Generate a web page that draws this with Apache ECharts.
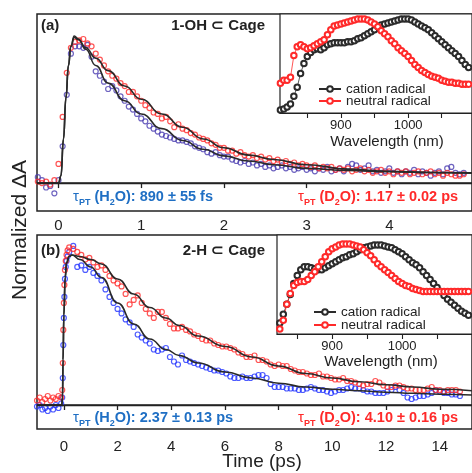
<!DOCTYPE html>
<html><head><meta charset="utf-8">
<script src="https://cdn.jsdelivr.net/npm/echarts@6/dist/echarts.min.js"></script>
<style>html,body{margin:0;padding:0;background:#fff}#c{width:472px;height:473px}</style>
</head><body><div id="c"></div>
<script>
// ---------- Panel (a): 1-OH ⊂ Cage ----------
const timeA = [-0.25,-0.20,-0.15,-0.10,-0.05,0.00,0.05,0.10,0.15,0.20,0.25,0.30,0.35,0.40,0.45,0.50,0.55,0.60,0.65,0.70,0.75,0.80,0.85,0.90,0.95,1.00,1.05,1.10,1.15,1.20,1.25,1.30,1.35,1.40,1.45,1.50,
1.55,1.60,1.65,1.70,1.75,1.80,1.85,1.90,1.95,2.00,2.05,2.10,2.15,2.20,2.25,2.30,2.35,2.40,2.45,2.50,2.55,2.60,2.65,2.70,2.75,2.80,2.85,2.90,2.95,3.00,
3.05,3.10,3.15,3.20,3.25,3.30,3.35,3.40,3.45,3.50,3.55,3.60,3.65,3.70,3.75,3.80,3.85,3.90,3.95,4.00,4.05,4.10,4.15,4.20,4.25,4.30,4.35,4.40,4.45,4.50,
4.55,4.60,4.65,4.70,4.75,4.80,4.85,4.90];
const h2oA = [0.04,0.02,-0.03,-0.02,-0.07,0.02,0.25,0.60,0.88,0.93,
0.93,0.92,0.94,0.86,0.76,0.73,0.69,0.64,0.66,0.63,
0.59,0.56,0.52,0.50,0.47,0.44,0.42,0.39,0.37,0.35,
0.33,0.32,0.31,0.30,0.29,0.29,
0.28,0.27,0.25,0.24,0.23,0.21,0.20,0.21,0.19,0.18,
0.18,0.16,0.15,0.14,0.15,0.13,0.14,0.12,0.13,0.11,
0.12,0.10,0.11,0.12,0.10,0.11,0.09,0.10,0.11,0.09,
0.10,0.08,0.10,0.09,0.11,0.08,0.09,0.10,0.08,0.11,
0.13,0.12,0.09,0.10,0.12,0.08,0.09,0.07,0.08,0.10,
0.07,0.08,0.06,0.08,0.07,0.09,0.06,0.08,0.07,0.05,
0.07,0.08,0.06,0.10,0.11,0.07,0.06,0.07];
const d2oA = [0.01,0.00,0.01,-0.01,0.02,0.13,0.45,0.75,0.92,0.96,
0.97,0.98,0.95,0.93,0.88,0.84,0.80,0.76,0.73,0.71,
0.68,0.66,0.62,0.62,0.59,0.56,0.53,0.51,0.48,0.47,
0.44,0.45,0.42,0.38,0.40,0.37,
0.36,0.34,0.33,0.31,0.30,0.29,0.27,0.26,0.24,0.24,
0.22,0.22,0.20,0.21,0.19,0.18,0.19,0.17,0.18,0.16,
0.17,0.15,0.16,0.14,0.15,0.13,0.14,0.12,0.13,0.12,
0.11,0.12,0.10,0.11,0.10,0.11,0.09,0.10,0.09,0.10,
0.08,0.09,0.10,0.08,0.09,0.07,0.08,0.09,0.07,0.08,
0.06,0.08,0.07,0.08,0.06,0.07,0.08,0.06,0.07,0.08,
0.06,0.07,0.05,0.07,0.06,0.05,0.05,0.06];
const fitTimeA = [-0.26,0,0.03,0.06,0.09,0.12,0.15,0.19,0.24,0.33,0.45,0.6,0.8,1.0,1.25,1.5,1.75,2.0,2.3,2.6,3.0,3.5,4.0,4.5,5.0];
const fitH2oA = [0,0,0.05,0.30,0.58,0.80,0.93,1.0,0.98,0.91,0.80,0.68,0.56,0.47,0.37,0.29,0.23,0.185,0.15,0.125,0.10,0.085,0.077,0.072,0.069];
const fitD2oA = [0,0,0.05,0.30,0.58,0.80,0.93,0.99,0.975,0.92,0.85,0.765,0.66,0.57,0.47,0.38,0.30,0.24,0.19,0.16,0.125,0.095,0.08,0.072,0.067];

// ---------- Panel (b): 2-H ⊂ Cage ----------
const timeB = [-1.0,-0.9,-0.8,-0.7,-0.6,-0.5,-0.4,-0.3,-0.2,-0.1,-0.06,-0.04,-0.02,0,0.02,0.04,0.07,0.1,0.14,
0.20,0.35,0.50,0.65,0.80,0.95,1.10,1.25,1.40,1.55,
1.70,1.85,2.00,2.15,2.30,2.45,2.60,2.75,2.90,3.05,
3.20,3.35,3.50,3.65,3.80,3.95,4.10,4.25,4.40,4.55,
4.70,4.85,5.00,5.15,5.30,5.45,5.60,5.75,5.90,6.05,
6.20,6.35,6.50,6.65,6.80,6.95,7.10,7.25,7.40,7.55,
7.70,7.85,8.00,8.15,8.30,8.45,8.60,8.75,8.90,9.05,
9.20,9.35,9.50,9.65,9.80,9.95,10.10,10.25,10.40,10.55,
10.70,10.85,11.00,11.15,11.30,11.45,11.60,11.75,11.90,12.05,
12.20,12.35,12.50,12.65,12.80,12.95,13.10,13.25,13.40,13.55,
13.70,13.85,14.00,14.15,14.30,14.45,14.60,14.75];
const h2oB = [-0.01,0.00,-0.03,-0.02,-0.04,-0.01,-0.03,0.00,-0.02,0.01,0.05,0.18,0.40,0.58,0.72,0.84,0.92,0.96,0.99,
1.02,1.06,0.92,0.93,0.90,0.92,0.88,0.86,0.83,0.77,
0.72,0.68,0.64,0.61,0.57,0.55,0.52,0.47,0.45,0.43,
0.41,0.37,0.36,0.37,0.38,0.32,0.29,0.27,0.33,0.30,
0.29,0.28,0.27,0.26,0.25,0.24,0.23,0.23,0.22,0.21,
0.19,0.18,0.18,0.19,0.18,0.18,0.19,0.20,0.20,0.18,
0.14,0.12,0.12,0.12,0.11,0.11,0.11,0.10,0.10,0.11,
0.12,0.11,0.10,0.10,0.09,0.08,0.09,0.10,0.10,0.11,
0.12,0.11,0.11,0.10,0.09,0.09,0.08,0.08,0.08,0.09,
0.10,0.12,0.10,0.08,0.05,0.04,0.05,0.06,0.06,0.07,
0.08,0.10,0.09,0.08,0.08,0.07,0.07,0.06];
const d2oB = [0.03,0.05,0.02,0.04,0.06,0.03,0.05,0.04,0.06,0.05,0.10,0.28,0.50,0.68,0.80,0.90,0.96,1.00,1.03,
1.05,1.04,1.02,1.00,0.97,0.98,0.95,0.92,0.93,0.90,
0.86,0.83,0.81,0.79,0.74,0.67,0.70,0.73,0.68,0.64,
0.61,0.58,0.62,0.62,0.58,0.54,0.51,0.51,0.52,0.50,
0.49,0.47,0.46,0.44,0.43,0.43,0.41,0.40,0.39,0.39,
0.38,0.37,0.35,0.34,0.32,0.32,0.33,0.30,0.30,0.29,
0.27,0.26,0.27,0.26,0.26,0.24,0.23,0.22,0.22,0.21,
0.20,0.20,0.21,0.19,0.19,0.18,0.17,0.17,0.18,0.16,
0.16,0.15,0.14,0.13,0.14,0.14,0.16,0.15,0.13,0.12,
0.12,0.13,0.13,0.12,0.11,0.11,0.10,0.10,0.10,0.11,
0.12,0.10,0.10,0.09,0.10,0.10,0.10,0.09];
const fitTimeB = [-1.0,-0.08,-0.05,-0.03,0,0.05,0.1,0.2,0.3,0.6,1.0,1.4,2.0,2.6,3.2,3.8,4.3,5,6,7,8,9,10,11,12,13,14,15.2];
const fitH2oB = [0,0,0.05,0.3,0.6,0.85,0.95,0.99,1.0,0.97,0.92,0.85,0.68,0.54,0.44,0.37,0.33,0.28,0.22,0.18,0.145,0.12,0.105,0.095,0.085,0.078,0.072,0.067];
const fitD2oB = [0,0,0.05,0.3,0.6,0.85,0.95,0.99,1.0,0.99,0.97,0.94,0.84,0.74,0.65,0.58,0.53,0.46,0.39,0.32,0.26,0.21,0.18,0.155,0.135,0.12,0.105,0.095];

// ---------- Insets: normalized spectra ----------
const waveA = [810,815,820,825,830,835,840,845,850,855,860,865,870,875,880,885,890,895,900,905,910,915,920,925,930,935,940,945,950,955,
960,965,970,975,980,985,990,995,1000,1005,1010,1015,1020,1025,1030,1035,1040,1045,1050,1055,1060,1065,1070,1075,1080,1085,1090];
const cationA = [0.03,0.04,0.06,0.09,0.17,0.26,0.40,0.50,0.57,0.61,
0.64,0.65,0.64,0.66,0.69,0.70,0.71,0.71,0.71,0.71,
0.72,0.72,0.73,0.75,0.76,0.78,0.80,0.82,0.84,0.87,
0.89,0.90,0.91,0.92,0.93,0.94,0.95,0.95,0.95,0.94,
0.92,0.90,0.88,0.86,0.84,0.81,0.78,0.75,0.72,0.69,
0.66,0.63,0.60,0.57,0.53,0.49,0.46];
const neutralA = [0.30,0.33,0.33,0.36,0.58,0.67,0.69,0.67,0.65,0.66,
0.68,0.70,0.72,0.74,0.79,0.84,0.88,0.89,0.90,0.91,
0.92,0.93,0.94,0.95,0.95,0.95,0.94,0.92,0.90,0.87,
0.83,0.80,0.77,0.73,0.70,0.66,0.63,0.60,0.57,0.53,
0.49,0.46,0.43,0.41,0.39,0.37,0.36,0.35,0.33,0.32,
0.31,0.31,0.30,0.30,0.29,0.29,0.29];
const waveB = [825,830,835,840,845,850,855,860,865,870,875,880,885,890,895,900,905,910,915,920,925,930,935,940,945,950,955,960,965,970,
975,980,985,990,995,1000,1005,1010,1015,1020,1025,1030,1035,1040,1045,1050,1055,1060,1065,1070,1075,1080,1085,1090,1095];
const cationB = [0.11,0.20,0.30,0.40,0.51,0.59,0.65,0.68,0.68,0.67,
0.66,0.65,0.65,0.67,0.69,0.71,0.73,0.75,0.77,0.78,
0.80,0.81,0.83,0.85,0.87,0.88,0.89,0.90,0.90,0.90,
0.89,0.88,0.87,0.85,0.83,0.81,0.78,0.75,0.72,0.70,
0.67,0.63,0.59,0.55,0.51,0.47,0.43,0.39,0.35,0.32,
0.29,0.26,0.23,0.21,0.19];
const neutralB = [0.05,0.14,0.30,0.41,0.49,0.52,0.53,0.53,0.55,0.59,
0.63,0.68,0.73,0.78,0.83,0.86,0.88,0.90,0.91,0.91,
0.91,0.90,0.89,0.88,0.85,0.82,0.79,0.75,0.71,0.68,
0.65,0.62,0.59,0.56,0.53,0.51,0.49,0.48,0.46,0.45,
0.44,0.43,0.43,0.43,0.43,0.43,0.43,0.43,0.43,0.43,
0.43,0.43,0.43,0.43,0.43];

// ---------- Ticks ----------
const ticksA = [0,1,2,3,4];
const ticksB = [0,2,4,6,8,10,12,14];
const waveTicks = [850,900,950,1000,1050];
const waveLabels = [900,1000];
const legendNames = ['cation radical','neutral radical'];

const zip = (xs, ys) => xs.map((x, i) => [x, ys[i]]);
const FONT = '"Liberation Sans", Arial, sans-serif';
const INK = '#222';
const BLUE_A = '#4a3cb0', BLUE_B = '#2233ff', RED = '#ff2a2a';
const TXT_BLUE = '#1f6fc4', TXT_RED = '#ff2a2a';

function mainX(grid, min, max, ticks, margin) {
  return { type:'value', gridIndex:grid, min:min, max:max,
    axisLine:{show:true, lineStyle:{color:INK, width:1.5}},
    axisTick:{show:true, length:5, customValues:ticks, lineStyle:{color:INK, width:1.3}},
    axisLabel:{customValues:ticks, fontSize:15, color:INK, margin:margin, fontFamily:FONT},
    splitLine:{show:false} };
}
function insetX(grid, min, max) {
  return { type:'value', gridIndex:grid, min:min, max:max,
    axisLine:{show:true, lineStyle:{color:INK, width:1.2}},
    axisTick:{show:true, length:5, customValues:waveTicks, lineStyle:{color:INK, width:1.1}},
    axisLabel:{customValues:waveLabels, formatter:(v) => String(v), fontSize:13, color:INK, margin:6, fontFamily:FONT},
    splitLine:{show:false} };
}
function hiddenY(grid, min, max) {
  return { type:'value', gridIndex:grid, min:min, max:max, show:false, splitLine:{show:false} };
}
function dots(ax, data, color) {
  return { type:'scatter', xAxisIndex:ax, yAxisIndex:ax, data:data, symbol:'circle', symbolSize:5,
    itemStyle:{color:'rgba(0,0,0,0)', borderColor:color, borderWidth:1.2}, silent:true, z:2 };
}
function fit(ax, data) {
  return { type:'line', xAxisIndex:ax, yAxisIndex:ax, data:data, showSymbol:false, smooth:0.5, smoothMonotone:'x',
    lineStyle:{color:'#2a2a2a', width:1.6}, silent:true, z:4 };
}
function spec(ax, name, data, color) {
  return { type:'line', name:name, xAxisIndex:ax, yAxisIndex:ax, data:data, symbol:'emptyCircle', symbolSize:5.5, showAllSymbol:true,
    itemStyle:{color:color, borderWidth:0.9}, lineStyle:{color:color, width:0.8}, silent:true, z:5 };
}
function baseline(ax) {
  return { type:'line', xAxisIndex:ax, yAxisIndex:ax, data:[], silent:true,
    markLine:{silent:true, symbol:['none','none'], label:{show:false}, animation:false,
      lineStyle:{color:INK, width:1.3, type:'solid'}, data:[{yAxis:0}]} };
}
function tauText(x, y, solvent, value, color) {
  const txt = '{g|τ}{s|PT}{b| (' + solvent + '}{s|2}{b|O): ' + value + '}';
  return { type:'text', x:x, y:y, z:10,
    style:{ text:txt, verticalAlign:'middle', align:'left',
      rich:{ g:{fontSize:15, fontFamily:FONT, fill:color, lineHeight:20},
             s:{fontSize:9, fontFamily:FONT, fontWeight:'bold', fill:color, lineHeight:9, verticalAlign:'bottom'},
             b:{fontSize:14.5, fontFamily:FONT, fontWeight:'bold', fill:color, lineHeight:20} } } };
}

const chart = echarts.init(document.getElementById('c'), null, {renderer:'canvas'});
chart.setOption({
  animation:false,
  backgroundColor:'#fff',
  textStyle:{fontFamily:FONT},
  grid:[
    {left:37, top:14, width:443.5, height:197, show:true, borderColor:INK, borderWidth:1.5, backgroundColor:'transparent'},
    {left:37, top:235, width:447, height:194, show:true, borderColor:INK, borderWidth:1.5, backgroundColor:'transparent'},
    {left:280, top:14, width:197, height:99, show:true, borderColor:INK, borderWidth:1.2, backgroundColor:'#fff'},
    {left:277, top:235, width:201, height:99, show:true, borderColor:INK, borderWidth:1.2, backgroundColor:'#fff'}
  ],
  xAxis:[ mainX(0,-0.26,5.0,ticksA,7), mainX(1,-1.0,15.2,ticksB,10), insetX(2,809.4,1095), insetX(3,821,1100) ],
  yAxis:[ hiddenY(0,-0.19,1.15), hiddenY(1,-0.16,1.133), hiddenY(2,0,1), hiddenY(3,0,1) ],
  legend:[
    {data:legendNames, orient:'vertical', left:318, top:82, itemGap:-2, itemWidth:22, itemHeight:7, padding:0,
     textStyle:{fontSize:13.5, color:INK, fontFamily:FONT}, selectedMode:false},
    {data:legendNames, orient:'vertical', left:313, top:305, itemGap:-1, itemWidth:22, itemHeight:7, padding:0,
     textStyle:{fontSize:13.5, color:INK, fontFamily:FONT}, selectedMode:false}
  ],
  series:[
    baseline(0), baseline(1),
    dots(0, zip(timeA, h2oA), BLUE_A), dots(0, zip(timeA, d2oA), RED),
    fit(0, zip(fitTimeA, fitH2oA)), fit(0, zip(fitTimeA, fitD2oA)),
    dots(1, zip(timeB, h2oB), BLUE_B), dots(1, zip(timeB, d2oB), RED),
    fit(1, zip(fitTimeB, fitH2oB)), fit(1, zip(fitTimeB, fitD2oB)),
    spec(2, 'cation radical', zip(waveA, cationA), '#2b2b2b'), spec(2, 'neutral radical', zip(waveA, neutralA), RED),
    spec(3, 'cation radical', zip(waveB, cationB), '#2b2b2b'), spec(3, 'neutral radical', zip(waveB, neutralB), RED)
  ],
  graphic:[
    {type:'text', x:41, y:26, z:10, style:{text:'(a)', fontSize:15, fontWeight:'bold', fontFamily:FONT, fill:INK, verticalAlign:'middle'}},
    {type:'text', x:265, y:26, z:10, style:{text:'1-OH ⊂ Cage', fontSize:15, fontWeight:'bold', fontFamily:FONT, fill:INK, align:'right', verticalAlign:'middle'}},
    {type:'text', x:41, y:251, z:10, style:{text:'(b)', fontSize:15, fontWeight:'bold', fontFamily:FONT, fill:INK, verticalAlign:'middle'}},
    {type:'text', x:265, y:251, z:10, style:{text:'2-H ⊂ Cage', fontSize:15, fontWeight:'bold', fontFamily:FONT, fill:INK, align:'right', verticalAlign:'middle'}},
    tauText(73, 197, 'H', '890 ± 55 fs', TXT_BLUE),
    tauText(298, 197, 'D', '1.17 ± 0.02 ps', TXT_RED),
    tauText(73, 418, 'H', '2.37 ± 0.13 ps', TXT_BLUE),
    tauText(298, 418, 'D', '4.10 ± 0.16 ps', TXT_RED),
    {type:'text', x:387, y:142, z:10, style:{text:'Wavelength (nm)', fontSize:15, fontFamily:FONT, fill:INK, align:'center', verticalAlign:'middle'}},
    {type:'text', x:381, y:362, z:10, style:{text:'Wavelength (nm)', fontSize:15, fontFamily:FONT, fill:INK, align:'center', verticalAlign:'middle'}},
    {type:'text', x:262, y:462, z:10, style:{text:'Time (ps)', fontSize:19, fontFamily:FONT, fill:INK, align:'center', verticalAlign:'middle'}},
    {type:'text', x:20, y:230, rotation:Math.PI/2, z:10, style:{text:'Normalized ΔA', fontSize:21, fontFamily:FONT, fill:INK, align:'center', verticalAlign:'middle'}}
  ]
});
</script>
</body></html>
